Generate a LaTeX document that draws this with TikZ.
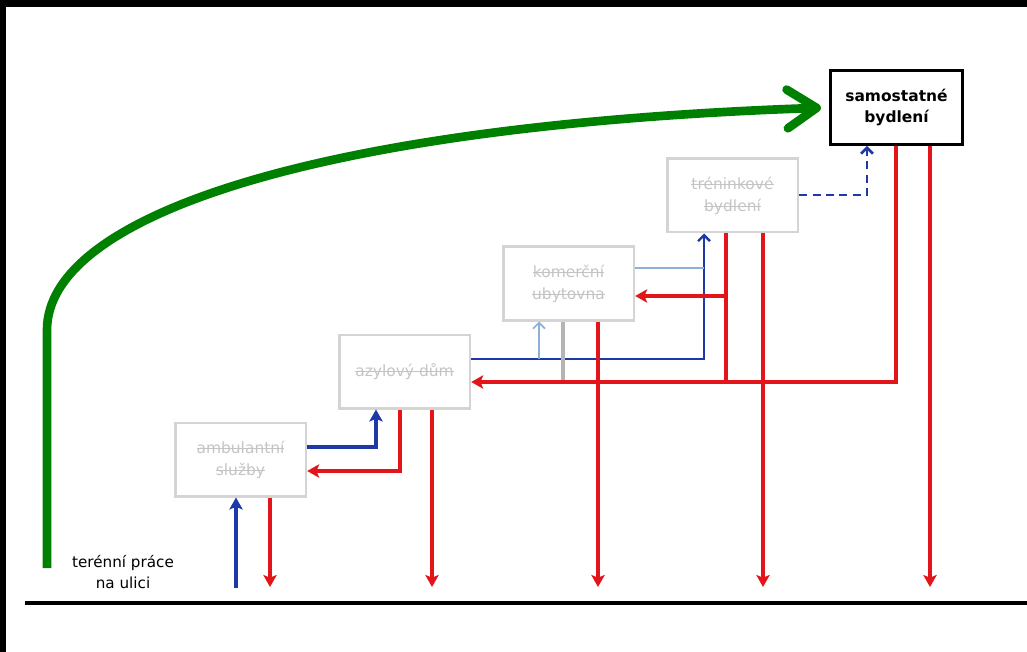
\documentclass[tikz,border=0pt]{standalone}
\usepackage{fontspec}
\setmainfont{DejaVu Sans}
\usetikzlibrary{arrows.meta,positioning}

\newsavebox{\strikebox}
\newcommand{\strikeout}[1]{\sbox{\strikebox}{#1}\rlap{\rule[0.27em]{\wd\strikebox}{0.9pt}}\usebox{\strikebox}}

\definecolor{linered}{RGB}{226,22,26}
\definecolor{lineblue}{RGB}{30,56,168}
\definecolor{lightblue}{RGB}{140,176,216}
\definecolor{boxgray}{RGB}{212,212,212}
\definecolor{textgray}{RGB}{196,196,196}
\definecolor{stemgray}{RGB}{180,180,180}
\definecolor{pathgreen}{RGB}{0,128,0}

\begin{document}
\begin{tikzpicture}[%
    x=0.75pt, y=-0.75pt,
    node distance={66pt and 123pt},
    on grid,
    box/.style={draw=boxgray, line width=2pt, minimum width=98pt, minimum height=55pt,
      inner sep=0pt, align=center, text=textgray, font=\fontsize{11.6}{16.5}\selectfont},
    goal/.style={draw=black, line width=2.4pt, minimum width=99pt, minimum height=55pt,
      inner sep=0pt, align=center, font=\bfseries\fontsize{11.6}{16}\selectfont},
    redarr/.style={draw=linered, line width=2.8pt, -{Stealth[length=9pt,width=10pt,inset=2pt]}},
    redline/.style={draw=linered, line width=2.8pt},
    bluearr/.style={draw=lineblue, line width=2.8pt, -{Stealth[length=9pt,width=10pt,inset=2pt]}},
    bluethin/.style={draw=lineblue, line width=1.8pt, -{Straight Barb[length=4.5pt,width=9pt]}},
    bluedash/.style={draw=lineblue, line width=2pt, dash pattern=on 6pt off 4pt,
      -{Straight Barb[length=4.5pt,width=9pt]}},
    lightline/.style={draw=lightblue, line width=1.3pt},
    lightarr/.style={draw=lightblue, line width=1.3pt, -{Straight Barb[length=4.5pt,width=9pt]}},
    stem/.style={draw=stemgray, line width=2.5pt},
    bigarr/.style={draw=pathgreen, line width=6.5pt,
      -{Straight Barb[length=22pt,width=29pt,line cap=round,line join=round]}}
  ]
    \useasboundingbox (0,0) rectangle (1027,652);
    \fill (0,0) rectangle (1027,7);
    \fill (0,0) rectangle (6,652);

    \node[box] (amb) at (240.5,459.5) {\strikeout{ambulantní}\\\strikeout{služby}};
    \node[box] (azyl) [above right=of amb] {\strikeout{azylový dům}};
    \node[box] (kom) [above right=of azyl] {\strikeout{komerční}\\\strikeout{ubytovna}};
    \node[box] (tren) [above right=of kom] {\strikeout{tréninkové}\\\strikeout{bydlení}};
    \node[goal] (sam) [above right=of tren] {samostatné\\bydlení};
    \node[align=center, font=\fontsize{11.4}{16}\selectfont] (ulice) at (123,572) {terénní práce\\na ulici};

    \coordinate (street) at (25,603);
    \coordinate (edge) at (1027,603);
    \draw[line width=2.4pt] (street) -- (edge);

    % moves up
    \coordinate (b0) at (236,588);
    \draw[bluearr] (b0) -- (amb.south -| b0);
    \draw[bluearr] (amb.east |- 0,447) -| (azyl.south -| 376,0);
    \draw[bluethin] (azyl.east |- 0,359) -| (tren.south -| 704,0);
    \coordinate (lb) at (539,359);
    \draw[lightarr] (lb) -- (kom.south -| lb);
    \coordinate (lk) at (704,268);
    \draw[lightline] (kom.east |- lk) -- (lk);
    \draw[bluedash] (tren.east |- 0,195) -| (sam.south -| 867,0);
    \coordinate (gs) at (563,382);
    \draw[stem] (kom.south -| gs) -- (gs);

    % moves down
    \draw[redarr] (azyl.south -| 400,0) |- (amb.east |- 0,471);
    \draw[redarr] (sam.south -| 896,0) |- (azyl.east |- 0,382);
    \coordinate (rj) at (726,382);
    \coordinate (rk) at (726,296);
    \draw[redline] (tren.south -| rj) -- (rj);
    \draw[redarr] (rk) -- (kom.east |- rk);
    \foreach \n/\x in {amb/270, azyl/432, kom/598, tren/763, sam/930}
      \draw[redarr] (\n.south -| \x,0) -- (\x,587);

    % street work straight to housing
    \coordinate (g0) at (47,568);
    \draw[bigarr, shorten >=6pt] (g0) -- (47,330) .. controls (47,215) and (320,125) .. (sam.west);
  \end{tikzpicture}
\end{document}
